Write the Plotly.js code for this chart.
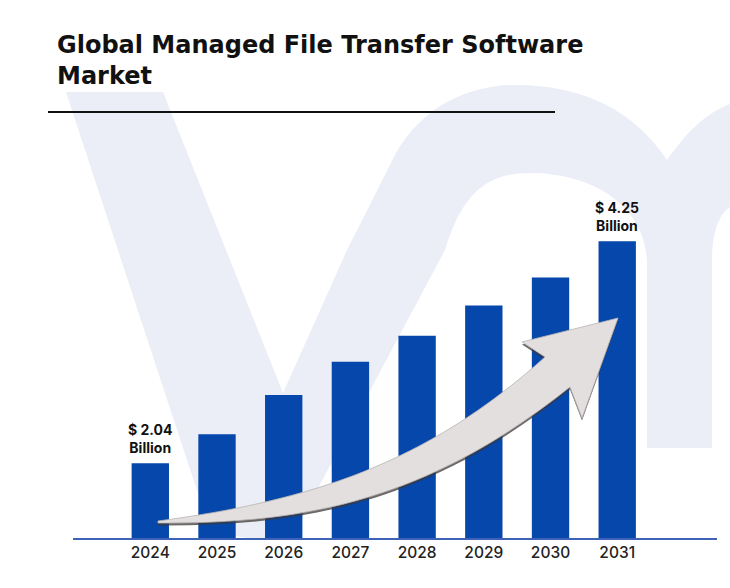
<!DOCTYPE html>
<html><head><meta charset="utf-8">
<script src="https://cdn.plot.ly/plotly-3.0.1.min.js"></script>
<style>html,body{margin:0;padding:0;background:#fff}#chart{width:730px;height:588px}</style>
</head><body><div id="chart"></div>
<script>
// ---- data ----
const years = ['2024', '2025', '2026', '2027', '2028', '2029', '2030', '2031'];
const marketValues = [2.04, 2.33, 2.72, 3.05, 3.31, 3.61, 3.89, 4.25];
const valueLabels = ['$ 2.04<br>Billion', '', '', '', '', '', '', '$ 4.25<br>Billion'];
const chartTitle = 'Global Managed File Transfer Software<br>Market';

// ---- geometry helpers (decorations only) ----
const W = 730, H = 588, L = 73, R = 13, T = 150, B = 50;
const pw = W - L - R, ph = H - T - B;
function P(x, y) { return ((x - L) / pw).toFixed(4) + ',' + ((H - B - y) / ph).toFixed(4); }

const FONT = 'Inter, "Open Sans", sans-serif';
const TITLE_FONT = '"DejaVu Sans", "Open Sans", sans-serif';

const watermark = `M${P(66,92)} L${P(163,92)} L${P(283,393)} L${P(347,250)} L${P(390,165)} ` +
  `C${P(415,110)} ${P(465,85)} ${P(515,85)} C${P(585,85)} ${P(635,112)} ${P(667,160)} ` +
  `C${P(688,130)} ${P(708,112)} ${P(730,104)} L${P(730,207)} ` +
  `C${P(718,215)} ${P(712,235)} ${P(712,262)} L${P(712,448)} L${P(647,448)} L${P(647,262)} ` +
  `C${P(645,205)} ${P(592,173)} ${P(530,173)} C${P(485,173)} ${P(462,195)} ${P(445,250)} ` +
  `L${P(300,522)} C${P(280,545)} ${P(225,545)} ${P(205,515)} Z`;

function arrowPath(dy) {
  const Q = (x, y) => P(x, y + dy);
  return `M${Q(158,521)} C${Q(308,501)} ${Q(425,465)} ${Q(545,357)} L${Q(522,342)} L${Q(618,318)} ` +
    `L${Q(582,418)} L${Q(570,387)} C${Q(430,499)} ${Q(308,524)} ${Q(158,523)} Z`;
}

const trace = {
  type: 'bar',
  x: years,
  y: marketValues,
  marker: { color: '#0547aa' },
  hoverinfo: 'x+y'
};

// category axis: annotation x given as the category's serial index
const labelAnnotations = years.map((yr, i) => ({
  x: i, y: marketValues[i], xref: 'x', yref: 'y',
  text: valueLabels[i], showarrow: false,
  xanchor: 'center', yanchor: 'bottom', yshift: 5,
  font: { family: FONT, size: 14, color: '#111111', weight: 700 }
})).filter(a => a.text !== '');

const layout = {
  width: W, height: H,
  margin: { l: L, r: R, t: T, b: B, pad: 0 },
  paper_bgcolor: '#ffffff',
  plot_bgcolor: 'rgba(0,0,0,0)',
  showlegend: false,
  bargap: 0.44,
  title: {
    text: chartTitle,
    x: 57 / W, xanchor: 'left', xref: 'container',
    y: 1 - 53 / H, yanchor: 'top', yref: 'container',
    font: { family: TITLE_FONT, size: 24, color: '#111111', weight: 700 }
  },
  xaxis: {
    type: 'category',
    range: [-1.159, 8.496],
    showgrid: false, zeroline: false,
    showline: true, linecolor: '#3d62b8', linewidth: 1.5,
    ticks: '',
    tickfont: { family: FONT, size: 15.5, color: '#222222', weight: 500 },
    fixedrange: true
  },
  yaxis: {
    range: [1.296, 5.159],
    visible: false,
    showgrid: false, zeroline: false,
    fixedrange: true
  },
  annotations: labelAnnotations,
  shapes: [
    { type: 'path', xref: 'paper', yref: 'paper', layer: 'below', path: watermark,
      fillcolor: '#ebeef6', line: { width: 0 } },
    { type: 'line', xref: 'paper', yref: 'paper', layer: 'above',
      x0: (48 - L) / pw, x1: (555 - L) / pw, y0: (H - B - 112) / ph, y1: (H - B - 112) / ph,
      line: { color: '#111111', width: 1.8 } },
    { type: 'path', xref: 'paper', yref: 'paper', layer: 'above', path: arrowPath(2.5),
      fillcolor: 'rgba(60,55,55,0.75)', line: { width: 0 } },
    { type: 'path', xref: 'paper', yref: 'paper', layer: 'above', path: arrowPath(0),
      fillcolor: '#e3dfdf', line: { color: '#b9b4b4', width: 0.8 } }
  ]
};

Plotly.newPlot('chart', [trace], layout, { displayModeBar: false, staticPlot: true });
</script>
</body></html>
